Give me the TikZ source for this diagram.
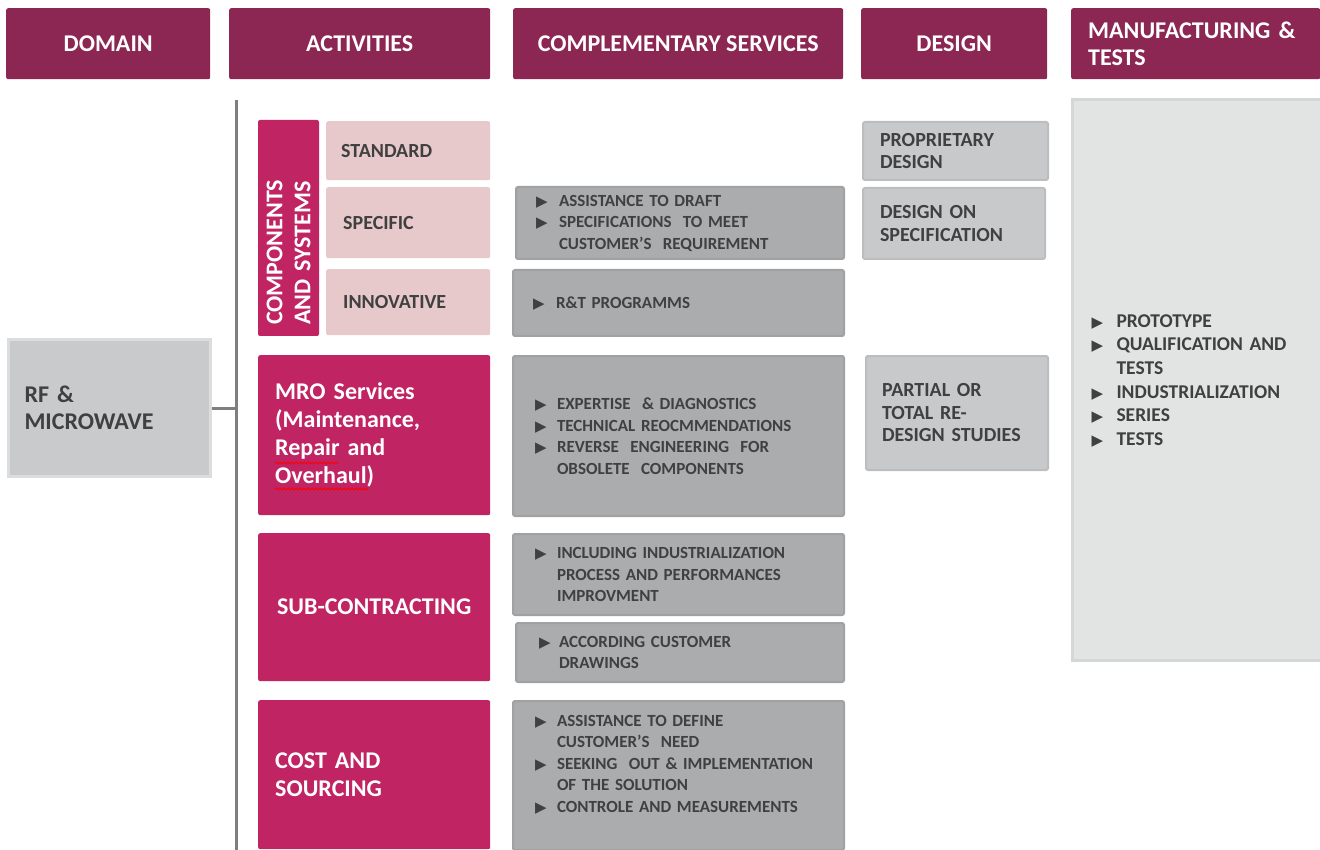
\documentclass[tikz,border=0pt]{standalone}
\usepackage{fontspec}
\setmainfont{Carlito}
\newfontfamily\symfont{DejaVu Sans}
\usetikzlibrary{decorations.pathmorphing}
\setlength{\parskip}{0pt}
\setlength{\parindent}{0pt}
\definecolor{hdrred}{HTML}{8B2752}
\definecolor{actred}{HTML}{C02462}
\definecolor{pinkfill}{HTML}{E8C9CB}
\definecolor{grayfill}{HTML}{ABACAE}
\definecolor{grayline}{HTML}{A0A1A3}
\definecolor{desfill}{HTML}{C8C9CB}
\definecolor{desline}{HTML}{BCBDBF}
\definecolor{mfgfill}{HTML}{E2E3E3}
\definecolor{mfgline}{HTML}{D5D6D6}
\definecolor{rffill}{HTML}{C9CACC}
\definecolor{rfline}{HTML}{DCDDDE}
\definecolor{txtgray}{HTML}{404040}
\definecolor{trunkgray}{HTML}{7F7F7F}
\newlength{\bulind}
\newcommand{\tri}{\raisebox{0pt}[0pt][0pt]{\symfont\fontsize{15}{15}\selectfont\char"25B6}}
% whole list is one paragraph, every line hung by \bulind
\newcommand{\bullist}[1][22pt]{\setlength{\bulind}{#1}\hangindent=\bulind\hangafter=0\ignorespaces}
\newcommand{\bul}{\llap{\makebox[\bulind][l]{\tri}}\ignorespaces}
\tikzset{
	hdr/.style={fill=hdrred, rounded corners=2pt, text=white, inner sep=0, anchor=north west, minimum height=71, font=\fontsize{24}{27.5}\selectfont\bfseries},
	actbox/.style={fill=actred, rounded corners=2pt, text=white, inner ysep=0, inner xsep=17, text width=198, anchor=north west, minimum height=#1, align=left, font=\fontsize{24}{28}\selectfont\bfseries},
	pinkbox/.style={fill=pinkfill, rounded corners=2pt, text=txtgray, inner ysep=0, anchor=north west, align=left, font=\fontsize{20}{24}\selectfont\bfseries},
	graybox/.style={fill=grayfill, draw=grayline, line width=2pt, rounded corners=2pt, text=txtgray, inner ysep=0, anchor=north west, align=left, font=\fontsize{17}{21.5}\selectfont\bfseries},
	desbox/.style={fill=desfill, draw=desline, line width=2pt, rounded corners=2pt, text=txtgray, inner ysep=0, anchor=north west, align=left, font=\fontsize{20}{22.5}\selectfont\bfseries},
	trunkline/.style={draw=trunkgray, line width=3pt},
	spell/.style={draw=red, line width=0.8pt, decorate, decoration={snake, amplitude=1pt, segment length=4pt}}
}
\begin{document}
\begin{tikzpicture}[x=1pt, y=-1pt]
			%%%%% START %%%%%
			\useasboundingbox (0,0) rectangle (1320,850);
			
			% column headers
			\node[hdr, minimum width=204] (domain) at (6,8) {DOMAIN};
			\node[hdr, minimum width=261] (activities) at (229,8) {ACTIVITIES};
			\node[hdr, minimum width=330] (complementary) at (513,8) {COMPLEMENTARY SERVICES};
			\node[hdr, minimum width=186] (design) at (861,8) {DESIGN};
			\node[hdr, minimum width=249, text width=215, inner xsep=17, align=left] (manufacturing) at (1071,8) {MANUFACTURING \&\\TESTS};
			
			% domain
			\node[fill=rffill, draw=rfline, line width=3pt, text=txtgray, anchor=north west, inner ysep=0, inner xsep=16, text width=170, minimum height=137, align=left, font=\fontsize{24}{27}\selectfont\bfseries] (rf) at (7,338) {RF \&\\MICROWAVE};
			\coordinate (trunktop) at (236,100);
			\coordinate (trunkbot) at (236,850);
			\draw[trunkline] (trunktop) -- (trunkbot);
			\draw[trunkline] (rf.east) -- (rf.east -| trunktop);
			
			% components and systems
			\node[fill=actred, rounded corners=2pt, text=white, rotate=90, minimum width=216, minimum height=61, inner ysep=0, inner xsep=11, text width=194, align=left, font=\fontsize{24}{28}\selectfont\bfseries] (components) at (288.5,228) {COMPONENTS\\AND SYSTEMS};
			\node[pinkbox, minimum height=59, text width=134, inner xsep=15] (standard) at (326,121) {STANDARD};
			\node[pinkbox, minimum height=71, text width=130, inner xsep=17] (specific) at (326,187) {SPECIFIC};
			\node[pinkbox, minimum height=66, text width=130, inner xsep=17] (innovative) at (326,269) {INNOVATIVE};
			\node[graybox, minimum height=72, text width=288, inner xsep=20] (specserv) at (515,186) {\bullist[23pt]\bul ASSISTANCE TO DRAFT\newline\bul SPECIFICATIONS\ \ TO MEET\newline CUSTOMER’S\ \ REQUIREMENT\par};
			\node[graybox, minimum height=66, text width=291, inner xsep=20] (rtserv) at (512,269) {\bullist[23pt]\bul R\&T PROGRAMMS\par};
			
			% MRO
			\node[actbox=160] (mro) at (258,355) {MRO Services\\(Maintenance,\\Repair and\\Overhaul)};
			\draw[spell] (275,463) -- (339,463);
			\draw[spell] (275,489) -- (368,489);
			\node[graybox, minimum height=160, text width=287, inner xsep=22] (mroserv) at (512,355) {\bullist\bul EXPERTISE\ \ \& DIAGNOSTICS\newline\bul TECHNICAL REOCMMENDATIONS\newline\bul REVERSE\ \ ENGINEERING\ \ FOR\newline OBSOLETE\ \ COMPONENTS\par};
			
			% sub-contracting
			\node[actbox=148, align=center] (subcontracting) at (258,533) {SUB-CONTRACTING};
			\node[graybox, minimum height=81, text width=287, inner xsep=22] (subserva) at (512,533) {\bullist\bul INCLUDING INDUSTRIALIZATION\newline PROCESS AND PERFORMANCES\newline IMPROVMENT\par};
			\node[graybox, minimum height=59, text width=282, inner xsep=23] (subservb) at (515,622) {\bullist[20pt]\bul ACCORDING CUSTOMER\newline DRAWINGS\par};
			
			% cost and sourcing
			\node[graybox, minimum height=149, text width=287, inner xsep=22] (costserv) at (512,700) {\bullist\bul ASSISTANCE TO DEFINE\newline CUSTOMER’S\ \ NEED\newline\bul SEEKING\ \ OUT \& IMPLEMENTATION\newline OF THE SOLUTION\newline\bul CONTROLE AND MEASUREMENTS\rule[-24pt]{0pt}{0pt}\par};
			\node[actbox=149] (cost) at (258,700) {COST AND\\SOURCING};
			
			% design
			\node[desbox, minimum height=58, text width=151, inner xsep=17] (proprietary) at (862,121) {PROPRIETARY\\DESIGN};
			\node[desbox, minimum height=71, text width=148, inner xsep=17] (designspec) at (862,187) {DESIGN ON\\SPECIFICATION};
			\node[desbox, minimum height=114, text width=150, inner xsep=16] (redesign) at (865,355) {PARTIAL OR\\TOTAL RE-\\DESIGN STUDIES};
			
			% manufacturing and tests
			\node[fill=mfgfill, draw=mfgline, line width=3pt, text=txtgray, anchor=north west, inner ysep=0, inner xsep=19, text width=211, minimum height=561, align=left, font=\fontsize{19.5}{23.6}\selectfont\bfseries] (mfg) at (1071,98) {\bullist[25pt]\bul PROTOTYPE\newline\bul QUALIFICATION AND\newline TESTS\newline\bul INDUSTRIALIZATION\newline\bul SERIES\newline\bul TESTS\par};
			
			%%%%% END %%%%%
\end{tikzpicture}
\end{document}
